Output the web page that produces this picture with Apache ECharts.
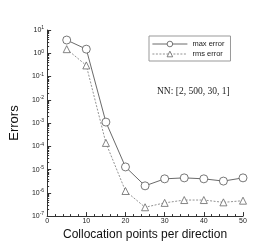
<!DOCTYPE html>
<html><head><meta charset="utf-8">
<script src="https://cdn.jsdelivr.net/npm/echarts@6/dist/echarts.min.js"></script>
<style>html,body{margin:0;padding:0;background:#fff}#c{width:277px;height:246px}</style>
</head><body><div id="c"></div>
<script>
const xPoints = [5, 10, 15, 20, 25, 30, 35, 40, 45, 50];
const maxError = [3.7, 1.5, 1.1e-3, 1.3e-5, 2.0e-6, 4.0e-6, 4.4e-6, 4.0e-6, 3.2e-6, 4.4e-6];
const rmsError = [1.5, 0.3, 1.4e-4, 1.2e-6, 2.4e-7, 3.7e-7, 4.9e-7, 4.9e-7, 3.9e-7, 4.6e-7];
const xTicks = [0, 10, 20, 30, 40, 50];
const yExponents = [-7, -6, -5, -4, -3, -2, -1, 0, 1];

const minorVals = [];
for (let e = -7; e < 1; e++) for (let m = 2; m <= 9; m++) minorVals.push(m * Math.pow(10, e));

const chart = echarts.init(document.getElementById('c'), null, {renderer: 'canvas'});
const fam = '"Liberation Sans", Arial, sans-serif';
chart.setOption({
  animation: false,
  backgroundColor: '#fff',
  grid: {left: 36, right: 34, top: 30, bottom: 29},
  title: {
    text: 'NN: [2, 500, 30, 1]', left: 152, top: 81,
    textStyle: {fontFamily: '"Liberation Serif", "Times New Roman", serif', fontSize: 9.5, fontWeight: 'normal', color: '#222'}
  },
  legend: {
    orient: 'vertical', left: 149, top: 36, width: 80,
    padding: [4, 6, 3, 3], itemGap: 2, itemWidth: 35, itemHeight: 7,
    borderColor: '#999', borderWidth: 1,
    lineStyle: {width: 0.8},
    itemStyle: {borderWidth: 0.8},
    textStyle: {fontFamily: fam, fontSize: 7.5, color: '#222', padding: [0, 0, 0, 0]},
    data: ['max error', 'rms error']
  },
  xAxis: {
    type: 'value', min: 0, max: 50, interval: 10,
    name: 'Collocation points per direction', nameLocation: 'middle', nameGap: 10,
    nameTextStyle: {fontFamily: fam, fontSize: 12, color: '#111'},
    axisLine: {lineStyle: {color: '#333', width: 1}},
    axisTick: {inside: true, length: 4, lineStyle: {color: '#333'}},
    minorTick: {show: true, splitNumber: 5, length: 2, lineStyle: {color: '#333'}},
    axisLabel: {fontFamily: fam, fontSize: 7, color: '#222', margin: 1,
      customValues: xTicks},
    splitLine: {show: false}
  },
  yAxis: [{
    type: 'log', logBase: 10, min: 1e-7, max: 10,
    name: 'Errors', nameLocation: 'middle', nameGap: 14, nameRotate: 90,
    nameTextStyle: {fontFamily: fam, fontSize: 13, color: '#111'},
    axisLine: {show: true, lineStyle: {color: '#333', width: 1}},
    axisTick: {inside: true, length: 4, lineStyle: {color: '#333'}},
    axisLabel: {
      margin: 3, color: '#222',
      formatter: function (v) {
        const e = Math.round(Math.log10(v));
        return '{b|10}{s|' + e + '}';
      },
      rich: {
        b: {fontFamily: fam, fontSize: 7, color: '#222'},
        s: {fontFamily: fam, fontSize: 5, color: '#222', padding: [0, 0, 4, 0]}
      }
    },
    splitLine: {show: false}
  }, {
    type: 'log', logBase: 10, min: 1e-7, max: 10, position: 'left',
    axisLine: {show: false},
    axisTick: {show: true, inside: true, length: 2, lineStyle: {color: '#333'}, customValues: minorVals},
    axisLabel: {show: false},
    splitLine: {show: false}
  }],
  series: [{
    name: 'max error', type: 'line',
    data: xPoints.map((x, i) => [x, maxError[i]]),
    symbol: 'circle', symbolSize: 8,
    lineStyle: {color: '#444', width: 0.8},
    itemStyle: {color: '#fff', borderColor: '#555', borderWidth: 0.8}
  }, {
    name: 'rms error', type: 'line',
    data: xPoints.map((x, i) => [x, rmsError[i]]),
    symbol: 'triangle', symbolSize: 7,
    lineStyle: {color: '#777', width: 0.8, type: [2, 1.5]},
    itemStyle: {color: '#fff', borderColor: '#666', borderWidth: 0.8}
  }]
});
</script></body></html>
